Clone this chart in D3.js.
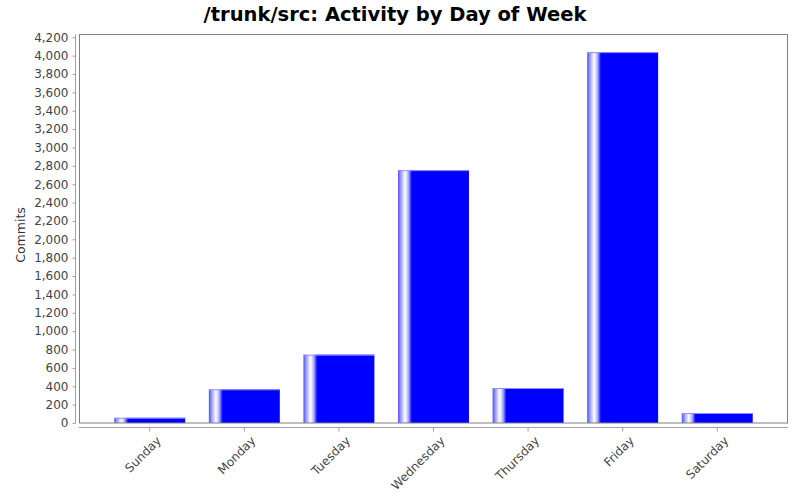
<!DOCTYPE html>
<html><head><meta charset="utf-8">
<script src="https://cdn.jsdelivr.net/npm/d3@7/dist/d3.min.js"></script>
<style>body{margin:0;background:#fff}svg{display:block}text{font-family:"DejaVu Sans",sans-serif}</style>
</head><body><svg id="c" width="800" height="500"></svg>
<script>
const days = ["Sunday","Monday","Tuesday","Wednesday","Thursday","Friday","Saturday"];
const commits = [57, 367, 744, 2753, 381, 4038, 109];
const yTicks = d3.range(0, 4201, 200);
const title = "/trunk/src: Activity by Day of Week";
const yLabel = "Commits";

const svg = d3.select("#c");
const L = 79, R = 788, T = 34.5, B = 423;
const x = d3.scaleBand().domain(days).range([L, R]).paddingInner(0.25).paddingOuter(0.373);
const y = d3.scaleLinear().domain([0, 4230]).range([B, T]);

const defs = svg.append("defs");
const g = defs.append("linearGradient").attr("id","bg").attr("x1","0").attr("x2","1").attr("y1","0").attr("y2","0");
[[0,"#5050ff"],[0.05,"#b0b0ff"],[0.1,"#ffffff"],[0.145,"#b0b0ff"],[0.195,"#0000ff"],[1,"#0000ff"]]
  .forEach(([o,c])=>g.append("stop").attr("offset",o).attr("stop-color",c));

svg.append("text").attr("x",395).attr("y",21).attr("text-anchor","middle")
  .style("font-size","19.5px").style("font-weight","bold").attr("fill","#000").text(title);

// bars
svg.append("g").selectAll("rect").data(days).join("rect")
  .attr("x", d=>x(d)).attr("width", x.bandwidth())
  .attr("y", (d,i)=>y(commits[i])).attr("height",(d,i)=>B - y(commits[i]))
  .attr("fill","url(#bg)");
svg.append("g").selectAll("line").data(days).join("line")
  .attr("x1", d=>x(d)).attr("x2", d=>x(d)+x.bandwidth())
  .attr("y1",(d,i)=>y(commits[i])+0.5).attr("y2",(d,i)=>y(commits[i])+0.5)
  .attr("stroke","#9090ff").attr("stroke-width",1);

// frame
svg.append("rect").attr("x",L+0.5).attr("y",T).attr("width",R-L-1).attr("height",B-T)
  .attr("fill","none").attr("stroke","#808080").attr("stroke-width",1);

// y axis
const ya = svg.append("g").attr("transform",`translate(75.5,0)`)
  .call(d3.axisLeft(y).tickValues(yTicks).tickSize(3).tickPadding(4).tickFormat(d3.format(",")));
ya.select(".domain").attr("stroke","#a0a0a0").attr("d",`M0,${T}V${B}`);
ya.selectAll(".tick line").attr("stroke","#a0a0a0");
ya.selectAll("text").style("font-size","12px").attr("fill","#444");

// x axis
const xa = svg.append("g").attr("transform",`translate(0,427.5)`)
  .call(d3.axisBottom(x).tickSize(4).tickSizeOuter(0));
xa.select(".domain").attr("stroke","#a0a0a0").attr("d",`M${L},0H${R}`);
xa.selectAll(".tick line").attr("stroke","#a0a0a0");
xa.selectAll("text").style("font-size","12px").attr("fill","#444")
  .attr("text-anchor","end").attr("dy","0").attr("y",0)
  .attr("transform","translate(12,14) rotate(-45)");

svg.append("text").attr("transform","translate(24.5,235) rotate(-90)").attr("text-anchor","middle")
  .style("font-size","12.5px").attr("fill","#333").text(yLabel);
</script></body></html>
